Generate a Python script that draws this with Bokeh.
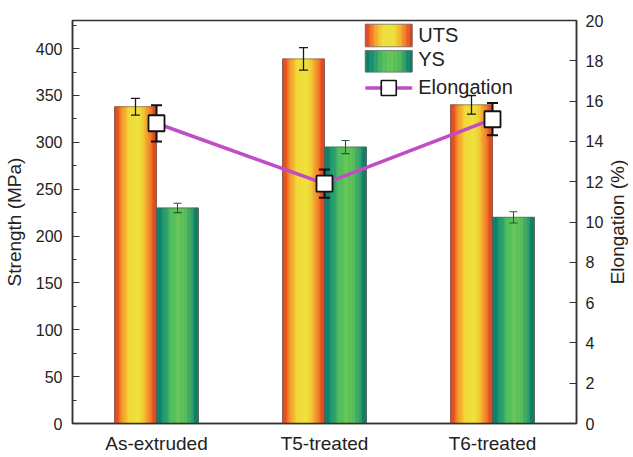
import numpy as np
from bokeh.plotting import figure
from bokeh.layouts import row
from bokeh.models import ColumnDataSource, Range1d, LinearAxis, FixedTicker
from bokeh.core.properties import value
from bokeh.embed import file_html
from bokeh.resources import INLINE

# ---------------- data ----------------
categories = ["As-extruded", "T5-treated", "T6-treated"]
uts = [338, 389, 340]
uts_err = [9, 12, 10]
ys = [230, 295, 220]
ys_err = [5, 7, 6]
elong = [14.9, 11.9, 15.1]
elong_err = [0.9, 0.7, 0.8]
strength_ticks = [0, 50, 100, 150, 200, 250, 300, 350, 400]
elong_ticks = [0, 2, 4, 6, 8, 10, 12, 14, 16, 18, 20]

FONT = "Liberation Sans"
TXT = "#222222"
MAGENTA = "#c04cc6"

UTS_STOPS = [(0.0, "#d5341c"), (0.1, "#eb5e20"), (0.22, "#f5a428"), (0.36, "#f1da34"),
             (0.6, "#eee236"), (0.75, "#f5b02a"), (0.9, "#ec6420"), (1.0, "#d5341c")]
YS_STOPS = [(0.0, "#0a7262"), (0.15, "#128e6e"), (0.36, "#4cbb5a"), (0.55, "#62c652"),
            (0.75, "#4ab45c"), (0.92, "#0f886a"), (1.0, "#0a6e60")]


def hex_rgb(h):
    h = h.lstrip("#")
    return [int(h[i:i + 2], 16) for i in (0, 2, 4)]


def gradient(stops, n):
    pos = np.array([s[0] for s in stops])
    cols = np.array([hex_rgb(s[1]) for s in stops], dtype=float)
    t = (np.arange(n) + 0.5) / n
    out = []
    for v in t:
        r, g, b = (np.interp(v, pos, cols[:, c]) for c in range(3))
        out.append("#%02x%02x%02x" % (int(round(r)), int(round(g)), int(round(b))))
    return out


NS = 36  # stripes per bar
BW = 0.25
xc = np.arange(1, len(categories) + 1, dtype=float)
FRAME_H = 403

p = figure(frame_width=504, frame_height=FRAME_H, output_backend="svg", toolbar_location=None,
           x_range=Range1d(0.5, 3.5), y_range=Range1d(0, 430),
           min_border_left=64, min_border_right=0, min_border_top=20, min_border_bottom=0)
p.extra_y_ranges = {"elong": Range1d(0, 20)}
p.grid.visible = False
p.outline_line_color = "#333333"
p.outline_line_width = 1.5
p.background_fill_color = "white"
p.border_fill_color = "white"


def striped_bars(values, offset, stops):
    cols = gradient(stops, NS)
    xs, tops, cs = [], [], []
    for i, v in enumerate(values):
        left = xc[i] + offset - BW / 2
        for k in range(NS):
            xs.append(left + (k + 0.5) * BW / NS)
            tops.append(v)
            cs.append(cols[k])
    src = ColumnDataSource(dict(x=xs, top=tops, c=cs))
    p.vbar(x="x", top="top", bottom=0, width=BW / NS, source=src,
           fill_color="c", line_color="c", line_width=0.6)
    p.vbar(x=list(xc + offset), top=values, bottom=0, width=BW,
           fill_alpha=0, line_color="#6a5a50", line_width=0.8, line_alpha=0.8)


def error_bars(xs, vals, errs, color, lw, cap, y_range_name="default"):
    lo = [v - e for v, e in zip(vals, errs)]
    hi = [v + e for v, e in zip(vals, errs)]
    p.segment(x0=xs, y0=lo, x1=xs, y1=hi, line_color=color, line_width=lw,
              y_range_name=y_range_name)
    p.scatter(x=list(xs) + list(xs), y=lo + hi, marker="dash", size=cap,
              line_color=color, line_width=lw, y_range_name=y_range_name)


striped_bars(uts, -BW / 2, UTS_STOPS)
striped_bars(ys, BW / 2, YS_STOPS)
error_bars(list(xc - BW / 2), uts, uts_err, "#1a1a1a", 1.3, 9)
error_bars(list(xc + BW / 2), ys, ys_err, "#1f5a36", 1.1, 8)

# elongation line
p.line(x=list(xc), y=elong, line_color=MAGENTA, line_width=3.5, y_range_name="elong")
error_bars(list(xc), elong, elong_err, "#111111", 2.0, 11, y_range_name="elong")
p.scatter(x=list(xc), y=elong, marker="square", size=16, fill_color="white",
          line_color="#111111", line_width=1.8, y_range_name="elong")

# ---------------- legend (drawn manually for gradient swatches) ----------------
xr0, xr1 = 0.5, 3.5
lg_x0 = xr0 + 0.581 * (xr1 - xr0)
lg_x1 = xr0 + 0.674 * (xr1 - xr0)
lg_tx = xr0 + 0.686 * (xr1 - xr0)
rows = [(402, 426), (375, 398)]
for (b, t), stops in zip(rows, [UTS_STOPS, YS_STOPS]):
    cols = gradient(stops, NS)
    edges = np.linspace(lg_x0, lg_x1, NS + 1)
    p.quad(left=list(edges[:-1]), right=list(edges[1:]), bottom=b, top=t,
           fill_color=cols, line_color=cols, line_width=0.6)
    p.quad(left=[lg_x0], right=[lg_x1], bottom=b, top=t, fill_alpha=0,
           line_color="#777777", line_width=0.8)
ly = 358
p.line(x=[lg_x0, lg_x1], y=[ly, ly], line_color=MAGENTA, line_width=3.5)
p.scatter(x=[(lg_x0 + lg_x1) / 2], y=[ly], marker="square", size=15, fill_color="white",
          line_color="#111111", line_width=1.6)
p.text(x=[lg_tx] * 3, y=[415, 389, 359], text=["UTS", "YS", "Elongation"],
       text_font=value(FONT), text_font_size="20px", text_color=TXT,
       text_baseline="middle", text_align="left")

# ---------------- axes ----------------
xa = p.xaxis[0]
xa.ticker = FixedTicker(ticks=list(xc))
xa.major_label_overrides = {int(i): c for i, c in zip(xc, categories)}
xa.major_tick_line_color = None
xa.minor_tick_line_color = None
xa.axis_line_color = "#333333"
xa.axis_line_width = 1.5
xa.major_label_text_font = FONT
xa.major_label_text_font_size = "19px"
xa.major_label_text_color = TXT
xa.major_label_standoff = 3

ya = p.yaxis[0]
ya.ticker = FixedTicker(ticks=strength_ticks,
                        minor_ticks=[(a + b) / 2 for a, b in zip(strength_ticks[:-1], strength_ticks[1:])] + [strength_ticks[-1] + 25])
ya.axis_label = "Strength (MPa)"
ya.axis_label_text_font = FONT
ya.axis_label_text_font_size = "19px"
ya.axis_label_text_font_style = "normal"
ya.axis_label_text_color = TXT
ya.axis_label_standoff = 8
ya.major_label_text_font = FONT
ya.major_label_text_font_size = "16px"
ya.major_label_text_color = TXT
ya.major_label_standoff = 10
ya.major_tick_in = 7
ya.major_tick_out = 0
ya.minor_tick_in = 4
ya.minor_tick_out = 0
ya.axis_line_color = "#333333"
ya.axis_line_width = 1.5
ya.major_tick_line_color = "#333333"
ya.minor_tick_line_color = "#333333"

ra = LinearAxis(y_range_name="elong", ticker=FixedTicker(ticks=elong_ticks, minor_ticks=[]))
ra.major_label_text_font = FONT
ra.major_label_text_font_size = "16px"
ra.major_label_text_color = TXT
ra.major_label_standoff = 9
ra.major_tick_in = 7
ra.major_tick_out = 0
ra.minor_tick_line_color = None
ra.axis_line_color = "#333333"
ra.axis_line_width = 1.5
ra.major_tick_line_color = "#333333"
p.add_layout(ra, "right")

# ---------------- right axis title (separate narrow figure, reads bottom-to-top) ----------------
p2 = figure(frame_width=22, frame_height=FRAME_H, output_backend="svg", toolbar_location=None,
            x_range=Range1d(0, 1), y_range=Range1d(0, 1),
            x_axis_location=None, y_axis_location=None,
            min_border_left=0, min_border_right=0, min_border_top=20, min_border_bottom=0)
p2.grid.visible = False
p2.outline_line_color = None
p2.text(x=[0.5], y=[0.5], text=["Elongation (%)"], angle=np.pi / 2,
        text_font=value(FONT), text_font_size="19px", text_color=TXT,
        text_align="center", text_baseline="middle")

layout = row(p, p2, spacing=0)
open("out.html", "w").write(file_html(layout, INLINE))
